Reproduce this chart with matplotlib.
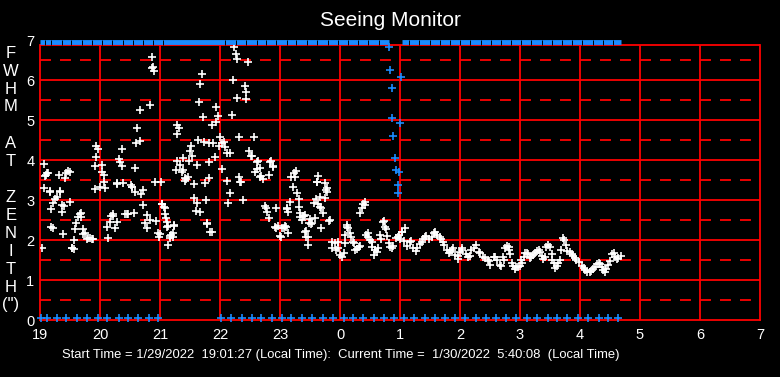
import matplotlib
matplotlib.use('Agg')
import matplotlib.pyplot as plt

plt.rcParams['font.family'] = ['Liberation Sans', 'DejaVu Sans']
plt.rcParams['lines.scale_dashes'] = False

# hour tick labels (local time, start of axis is 19:00)
hour_labels = ['19', '20', '21', '22', '23', '0', '1', '2', '3', '4', '5', '6', '7']

# seeing measurements: hours after 19:00, FWHM at zenith (arcsec)
white_t = [0.04, 0.06, 0.07, 0.08, 0.10, 0.12, 0.14, 0.16, 0.17, 0.18, 0.19, 0.21, 0.22, 0.25, 0.28,
           0.31, 0.33, 0.34, 0.36, 0.37, 0.39, 0.40, 0.42, 0.44, 0.47, 0.50, 0.50, 0.53, 0.54, 0.56,
           0.57, 0.58, 0.60, 0.64, 0.66, 0.69, 0.69, 0.72, 0.72, 0.75, 0.78, 0.80, 0.83, 0.86, 0.89,
           0.91, 0.92, 0.93, 0.94, 0.97, 1.00, 1.03, 1.04, 1.06, 1.07, 1.08, 1.11, 1.14, 1.17, 1.19,
           1.21, 1.22, 1.25, 1.28, 1.28, 1.29, 1.32, 1.34, 1.36, 1.37, 1.38, 1.42, 1.45, 1.47, 1.51,
           1.53, 1.54, 1.56, 1.58, 1.58, 1.60, 1.62, 1.66, 1.67, 1.69, 1.72, 1.72, 1.75, 1.78, 1.79,
           1.83, 1.83, 1.86, 1.87, 1.89, 1.90, 1.92, 1.94, 1.97, 1.99, 2.00, 2.02, 2.03, 2.04, 2.06,
           2.08, 2.08, 2.10, 2.12, 2.11, 2.14, 2.14, 2.16, 2.17, 2.19, 2.21, 2.22, 2.23, 2.24, 2.27,
           2.28, 2.29, 2.29, 2.32, 2.33, 2.36, 2.38, 2.38, 2.41, 2.42, 2.43, 2.46, 2.49, 2.50, 2.52,
           2.54, 2.56, 2.57, 2.60, 2.61, 2.62, 2.64, 2.65, 2.66, 2.67, 2.70, 2.72, 2.74, 2.75, 2.77,
           2.78, 2.79, 2.81, 2.82, 2.82, 2.84, 2.86, 2.87, 2.89, 2.92, 2.93, 2.94, 2.96, 2.98, 3.00,
           3.04, 3.04, 3.07, 3.09, 3.11, 3.12, 3.14, 3.16, 3.17, 3.20, 3.22, 3.24, 3.26, 3.28, 3.29,
           3.31, 3.32, 3.33, 3.35, 3.38, 3.42, 3.43, 3.44, 3.47, 3.49, 3.51, 3.53, 3.56, 3.58, 3.61,
           3.62, 3.64, 3.66, 3.67, 3.68, 3.72, 3.75, 3.77, 3.79, 3.81, 3.82, 3.83, 3.85, 3.88, 3.89,
           3.92, 3.93, 3.94, 3.97, 4.00, 4.01, 4.03, 4.06, 4.08, 4.10, 4.11, 4.12, 4.14, 4.14, 4.17,
           4.19, 4.22, 4.23, 4.25, 4.26, 4.29, 4.31, 4.32, 4.33, 4.34, 4.36, 4.39, 4.40, 4.42, 4.42,
           4.44, 4.44, 4.46, 4.47, 4.49, 4.50, 4.51, 4.54, 4.57, 4.58, 4.60, 4.61, 4.62, 4.64, 4.64,
           4.66, 4.67, 4.68, 4.69, 4.72, 4.75, 4.75, 4.77, 4.78, 4.79, 4.81, 4.83, 4.86, 4.86, 4.92,
           4.93, 4.96, 4.97, 5.00, 5.03, 5.06, 5.08, 5.09, 5.11, 5.12, 5.14, 5.17, 5.18, 5.21, 5.23,
           5.25, 5.28, 5.31, 5.33, 5.33, 5.36, 5.39, 5.41, 5.42, 5.44, 5.46, 5.47, 5.50, 5.53, 5.54,
           5.57, 5.58, 5.61, 5.64, 5.67, 5.68, 5.71, 5.73, 5.75, 5.77, 5.79, 5.82, 5.84, 5.86, 5.89,
           5.93, 5.96, 5.99, 6.00, 6.03, 6.04, 6.07, 6.08, 6.12, 6.16, 6.19, 6.22, 6.27, 6.29, 6.33,
           6.36, 6.39, 6.42, 6.44, 6.48, 6.53, 6.56, 6.58, 6.61, 6.66, 6.69, 6.72, 6.74, 6.78, 6.82,
           6.83, 6.86, 6.89, 6.92, 6.96, 6.97, 7.00, 7.03, 7.04, 7.10, 7.14, 7.17, 7.19, 7.23, 7.27,
           7.31, 7.33, 7.38, 7.42, 7.46, 7.49, 7.50, 7.56, 7.58, 7.61, 7.67, 7.69, 7.72, 7.73, 7.75,
           7.78, 7.81, 7.82, 7.83, 7.86, 7.89, 7.92, 7.94, 7.97, 8.00, 8.01, 8.03, 8.06, 8.08, 8.11,
           8.14, 8.17, 8.19, 8.22, 8.25, 8.28, 8.31, 8.33, 8.36, 8.39, 8.42, 8.44, 8.47, 8.50, 8.53,
           8.53, 8.56, 8.58, 8.61, 8.64, 8.66, 8.68, 8.71, 8.73, 8.76, 8.78, 8.83, 8.86, 8.89, 8.92,
           8.94, 8.99, 9.03, 9.06, 9.08, 9.12, 9.17, 9.19, 9.22, 9.25, 9.28, 9.31, 9.33, 9.36, 9.39,
           9.42, 9.44, 9.47, 9.50, 9.53, 9.56, 9.58, 9.61, 9.64, 9.68]
white_fwhm = [1.79, 3.29, 3.89, 3.60, 3.63, 3.67, 3.67, 3.21, 3.22, 2.77, 2.33, 2.31, 2.93, 3.02, 3.07,
              3.63, 3.22, 3.21, 2.88, 2.71, 2.15, 2.85, 3.54, 3.67, 3.73, 3.69, 2.95, 1.81, 1.81, 1.77,
              2.00, 2.27, 2.42, 2.57, 2.65, 2.57, 2.67, 2.27, 2.15, 2.18, 2.02, 2.04, 2.04, 2.03, 2.02,
              3.27, 3.86, 4.08, 4.36, 4.27, 3.33, 3.71, 3.88, 3.62, 3.44, 3.29, 2.33, 2.04, 2.46, 2.60,
              2.60, 2.65, 2.31, 2.46, 3.42, 3.40, 4.02, 3.96, 3.86, 4.27, 3.42, 2.65, 2.65, 2.65, 3.38,
              3.33, 3.32, 2.67, 3.21, 3.79, 4.43, 4.79, 5.25, 4.47, 3.15, 3.25, 2.87, 2.43, 2.63, 2.31,
              2.50, 5.37, 6.29, 6.57, 6.33, 6.22, 3.44, 2.48, 2.18, 2.08, 2.15, 3.44, 2.90, 2.89, 2.82,
              2.64, 2.79, 2.54, 2.46, 2.33, 1.88, 2.35, 2.04, 2.10, 2.13, 2.07, 2.17, 2.36, 2.38, 3.75,
              3.97, 4.88, 4.64, 4.81, 3.88, 3.69, 4.04, 3.75, 3.54, 3.48, 3.52, 3.58, 3.98, 4.23, 4.36,
              4.11, 3.40, 3.04, 2.73, 2.92, 3.88, 4.50, 5.44, 5.89, 2.69, 6.14, 5.07, 4.44, 3.43, 3.00,
              2.43, 2.40, 3.56, 4.42, 3.94, 2.19, 2.21, 4.88, 4.42, 4.08, 5.33, 4.96, 5.10, 4.36, 4.57,
              4.43, 3.77, 4.46, 4.33, 4.18, 3.48, 2.93, 3.18, 4.17, 5.13, 6.00, 6.83, 6.65, 6.52, 5.54,
              4.58, 3.58, 3.46, 3.46, 3.00, 5.85, 5.69, 5.52, 6.44, 4.23, 4.10, 4.10, 4.57, 3.71, 3.78,
              3.96, 3.98, 3.80, 3.58, 3.60, 3.52, 2.84, 2.79, 2.71, 2.54, 3.63, 3.96, 3.98, 3.83, 3.85,
              2.33, 2.79, 2.29, 2.35, 2.10, 2.07, 2.29, 2.31, 2.35, 2.33, 2.79, 2.77, 2.71, 2.18, 2.94,
              3.57, 3.32, 3.67, 3.58, 3.73, 3.17, 2.83, 3.02, 2.68, 2.58, 2.50, 2.60, 2.60, 2.21, 2.63,
              2.07, 2.23, 2.08, 1.87, 2.43, 2.52, 2.40, 2.43, 2.92, 2.54, 3.02, 3.46, 3.46, 3.60, 2.90,
              3.08, 2.83, 2.29, 2.79, 2.67, 3.04, 3.42, 3.25, 3.21, 3.29, 2.48, 2.50, 1.96, 1.79, 1.92,
              1.75, 1.96, 1.79, 1.63, 1.57, 1.67, 1.92, 2.13, 2.38, 2.33, 2.29, 2.17, 2.07, 1.96, 1.93,
              1.75, 1.77, 1.83, 1.85, 2.68, 2.79, 2.89, 2.88, 2.96, 2.13, 2.17, 2.07, 2.00, 1.96, 1.83,
              1.63, 1.75, 1.71, 1.79, 2.13, 2.02, 2.46, 2.48, 2.33, 2.27, 2.10, 1.92, 1.83, 1.79, 1.85,
              2.04, 2.08, 2.13, 2.02, 2.21, 2.19, 1.98, 2.29, 1.85, 1.96, 1.98, 1.79, 1.73, 1.79, 1.90,
              1.96, 2.02, 2.07, 2.10, 2.02, 2.07, 2.17, 2.21, 2.13, 2.07, 2.02, 1.96, 1.88, 1.75, 1.67,
              1.71, 1.75, 1.79, 1.63, 1.52, 1.60, 1.71, 1.79, 1.75, 1.65, 1.57, 1.60, 1.75, 1.79, 1.88,
              1.71, 1.67, 1.58, 1.54, 1.50, 1.48, 1.38, 1.58, 1.57, 1.50, 1.38, 1.35, 1.57, 1.50, 1.79,
              1.85, 1.82, 1.75, 1.65, 1.42, 1.35, 1.27, 1.32, 1.33, 1.35, 1.50, 1.42, 1.58, 1.67, 1.68,
              1.65, 1.54, 1.57, 1.63, 1.68, 1.73, 1.75, 1.71, 1.60, 1.52, 1.57, 1.83, 1.88, 1.83, 1.65,
              1.50, 1.42, 1.29, 1.35, 1.42, 1.50, 1.75, 2.04, 2.00, 1.88, 1.73, 1.71, 1.65, 1.60, 1.54,
              1.50, 1.46, 1.35, 1.29, 1.25, 1.21, 1.21, 1.23, 1.27, 1.33, 1.40, 1.43, 1.40, 1.32, 1.25,
              1.21, 1.27, 1.38, 1.48, 1.65, 1.67, 1.58, 1.52, 1.54, 1.60]

# second channel: off-scale (top) spans, the drop near 01:00 and the zero readings
blue_top_start = [0.00, 6.03]
blue_top_end = [5.81, 9.69]
blue_top_level = [6.95, 6.95]
blue_drop_t = [5.82, 5.84, 5.86, 5.87, 5.89, 5.92, 5.94, 5.96, 5.97, 5.99, 6.00, 6.02]
blue_drop_v = [6.82, 6.24, 5.79, 5.04, 4.59, 4.04, 3.74, 3.37, 3.17, 3.69, 4.92, 6.07]
blue_zero_t = [0.01, 0.11, 0.28, 0.44, 0.62, 0.79, 0.96, 1.12, 1.31, 1.47, 1.64, 1.81, 1.97,
               3.01, 3.19, 3.36, 3.53, 3.69, 3.86, 4.03, 4.19, 4.37, 4.54, 4.72, 4.89, 5.06, 5.22,
               5.39, 5.57, 5.73, 5.90, 6.07, 6.23, 6.42, 6.58, 6.75, 6.92, 7.08, 7.27, 7.43, 7.60,
               7.77, 7.93, 8.11, 8.29, 8.46, 8.62, 8.79, 8.96, 9.14, 9.31, 9.47, 9.64]

ylabel_letters = ['F', 'W', 'H', 'M', '', 'A', 'T', '', 'Z', 'E', 'N', 'I', 'T', 'H', '(")']

RED = '#ff0000'
BLUE = '#1a8cff'
TOP = 6.875

fig = plt.figure(figsize=(7.8, 3.77), dpi=100, facecolor='black')
ax = fig.add_axes([40 / 780, 57 / 377, 720 / 780, 280 / 377])
ax.set_facecolor('black')
ax.set_xlim(0, 12)
ax.set_ylim(0, 7)

# grid
ax.vlines(range(1, 12), 0, TOP, colors=RED, lw=1.3, zorder=1)
ax.hlines(range(1, 7), 0, 12, colors=RED, lw=1.3, zorder=1)
ax.hlines([k + 0.5 for k in range(7)], 0, 12, colors=RED, lw=1.3,
          linestyles=[(0, (7.9, 6.5))], zorder=1)
ax.hlines(TOP, 0, 12, colors=RED, lw=1.3, zorder=1)

for side in ['left', 'right', 'bottom']:
    ax.spines[side].set_color(RED)
    ax.spines[side].set_linewidth(1.3)
ax.spines['left'].set_bounds(0, TOP)
ax.spines['right'].set_bounds(0, TOP)
ax.spines['top'].set_visible(False)

ax.set_xticks(range(13))
ax.set_xticklabels(hour_labels)
ax.set_yticks(range(8))
ax.tick_params(length=0, colors='white', labelsize=10.5)
ax.tick_params(axis='x', pad=6)
ax.tick_params(axis='y', pad=4)

# data
ax.plot(white_t, white_fwhm, '+', color='white', ms=6, mew=1.2, zorder=3)
ax.hlines(blue_top_level, blue_top_start, blue_top_end, colors=BLUE, lw=3.5, zorder=4, clip_on=False)
# small gaps in the top band where the 10-minute samples sit
band_ticks = [t + 0.08 for t in blue_zero_t
              if any(s <= t + 0.08 <= e for s, e in zip(blue_top_start, blue_top_end))]
ax.plot(band_ticks, [6.95] * len(band_ticks), '|', color='black', ms=3.6, mew=0.7,
        zorder=5, clip_on=False)
ax.plot(blue_drop_t, blue_drop_v, '+', color=BLUE, ms=6, mew=1.2, zorder=4)
ax.plot(blue_zero_t, [0.06] * len(blue_zero_t), '+', color=BLUE, ms=6, mew=1.2,
        zorder=4, clip_on=False)

fig.text(0.5, 1 - 20 / 377, 'Seeing Monitor', color='white', fontsize=15,
         ha='center', va='center')
for i, letter in enumerate(ylabel_letters):
    fig.text(11 / 780, 1 - (53 + 18 * i) / 377, letter, color='white', fontsize=12,
             ha='center', va='center')
fig.text(62 / 780, 1 - 355 / 377,
         'Start Time = 1/29/2022  19:01:27 (Local Time):  Current Time =  1/30/2022  5:40:08  (Local Time)',
         color='white', fontsize=9.4, ha='left', va='center')

plt.savefig('out.png', dpi=100, facecolor='black')
